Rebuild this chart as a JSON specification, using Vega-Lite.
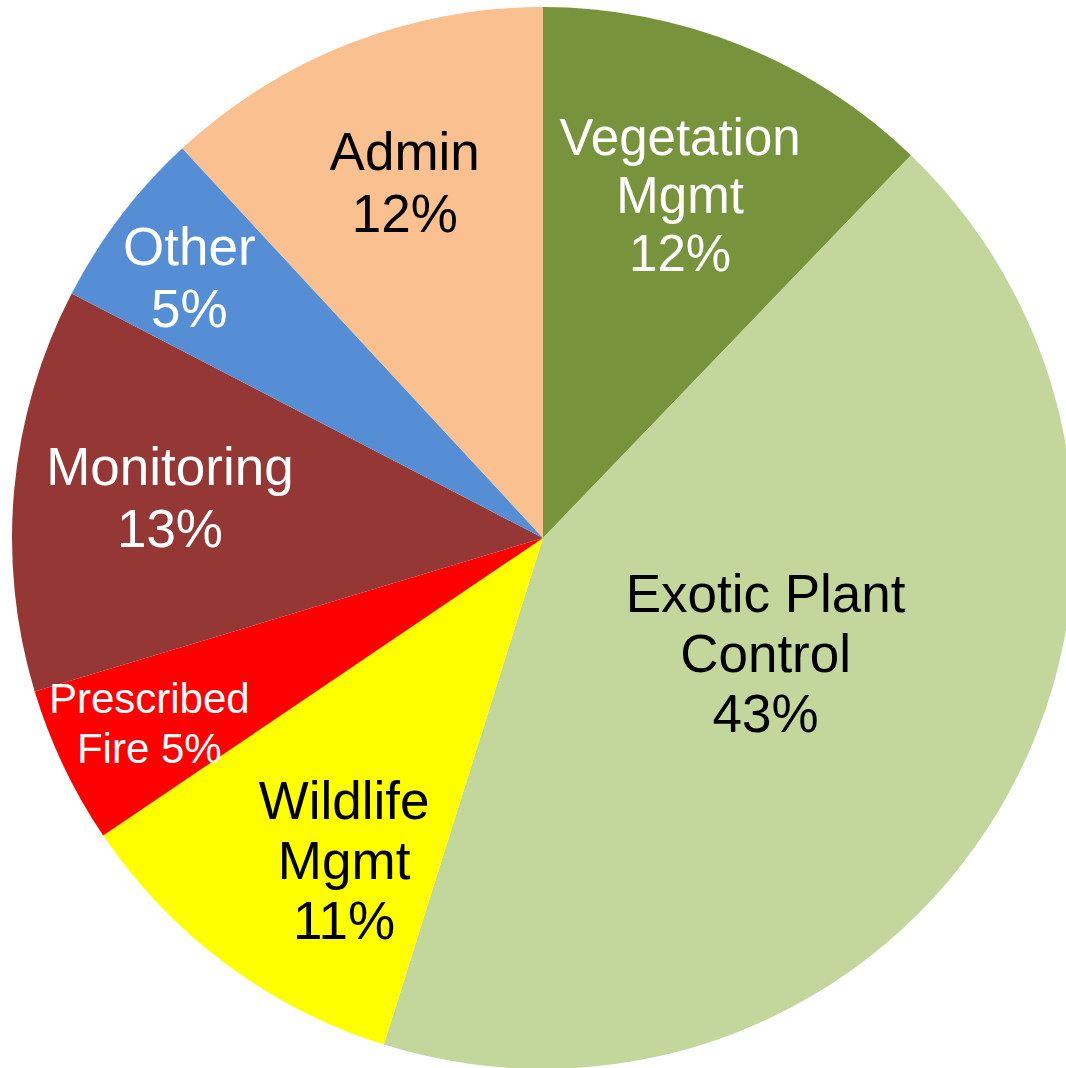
{
  "$schema": "https://vega.github.io/schema/vega-lite/v6.json",
  "width": 1066,
  "height": 1068,
  "autosize": {"type": "fit", "contains": "padding"},
  "padding": {"left": 20, "top": 8, "right": 0, "bottom": 0},
  "background": "white",
  "view": {"stroke": null},
  "data": {
    "values": [
      {"idx": 1, "cat": "Vegetation Mgmt", "value": 12.2, "label": ["Vegetation", "Mgmt", "12%"]},
      {"idx": 2, "cat": "Exotic Plant Control", "value": 42.7, "label": ["Exotic Plant", "Control", "43%"]},
      {"idx": 3, "cat": "Wildlife Mgmt", "value": 10.7, "label": ["Wildlife", "Mgmt", "11%"]},
      {"idx": 4, "cat": "Prescribed Fire", "value": 4.8, "label": ["Prescribed", "Fire 5%"]},
      {"idx": 5, "cat": "Monitoring", "value": 12.3, "label": ["Monitoring", "13%"]},
      {"idx": 6, "cat": "Other", "value": 5.5, "label": ["Other", "5%"]},
      {"idx": 7, "cat": "Admin", "value": 11.9, "label": ["Admin", "12%"]}
    ]
  },
  "encoding": {
    "theta": {"field": "value", "type": "quantitative", "stack": true},
    "order": {"field": "idx", "type": "quantitative"}
  },
  "layer": [
    {
      "mark": {"type": "arc", "outerRadius": 531, "stroke": null},
      "encoding": {
        "color": {
          "field": "cat",
          "type": "nominal",
          "legend": null,
          "scale": {
            "domain": ["Vegetation Mgmt", "Exotic Plant Control", "Wildlife Mgmt", "Prescribed Fire", "Monitoring", "Other", "Admin"],
            "range": ["#77933C", "#C3D69B", "#FFFF00", "#FF0000", "#953735", "#558ED5", "#FAC090"]
          }
        }
      }
    },
    {
      "mark": {"type": "text", "radius": 367, "thetaOffset": 0, "dy": -58, "font": "Liberation Sans", "fontSize": 51, "lineHeight": 58, "fill": "white", "align": "center", "baseline": "middle"},
      "encoding": {"text": {"condition": {"test": "datum.cat === 'Vegetation Mgmt'", "field": "label"}, "value": ""}}
    },
    {
      "mark": {"type": "text", "radius": 252, "thetaOffset": -0.047, "dy": -60, "font": "Liberation Sans", "fontSize": 53, "lineHeight": 60, "fill": "black", "align": "center", "baseline": "middle"},
      "encoding": {"text": {"condition": {"test": "datum.cat === 'Exotic Plant Control'", "field": "label"}, "value": ""}}
    },
    {
      "mark": {"type": "text", "radius": 381, "thetaOffset": -0.091, "dy": -60, "font": "Liberation Sans", "fontSize": 53, "lineHeight": 60, "fill": "black", "align": "center", "baseline": "middle"},
      "encoding": {"text": {"condition": {"test": "datum.cat === 'Wildlife Mgmt'", "field": "label"}, "value": ""}}
    },
    {
      "mark": {"type": "text", "radius": 436, "thetaOffset": 0, "dy": -25, "font": "Liberation Sans", "fontSize": 42, "lineHeight": 50, "fill": "white", "align": "center", "baseline": "middle"},
      "encoding": {"text": {"condition": {"test": "datum.cat === 'Prescribed Fire'", "field": "label"}, "value": ""}}
    },
    {
      "mark": {"type": "text", "radius": 375, "thetaOffset": 0.009, "dy": -31, "font": "Liberation Sans", "fontSize": 53, "lineHeight": 62, "fill": "white", "align": "center", "baseline": "middle"},
      "encoding": {"text": {"condition": {"test": "datum.cat === 'Monitoring'", "field": "label"}, "value": ""}}
    },
    {
      "mark": {"type": "text", "radius": 438, "thetaOffset": -0.02, "dy": -31, "font": "Liberation Sans", "fontSize": 53, "lineHeight": 62, "fill": "white", "align": "center", "baseline": "middle"},
      "encoding": {"text": {"condition": {"test": "datum.cat === 'Other'", "field": "label"}, "value": ""}}
    },
    {
      "mark": {"type": "text", "radius": 379, "thetaOffset": 0, "dy": -31, "font": "Liberation Sans", "fontSize": 53, "lineHeight": 62, "fill": "black", "align": "center", "baseline": "middle"},
      "encoding": {"text": {"condition": {"test": "datum.cat === 'Admin'", "field": "label"}, "value": ""}}
    }
  ]
}
